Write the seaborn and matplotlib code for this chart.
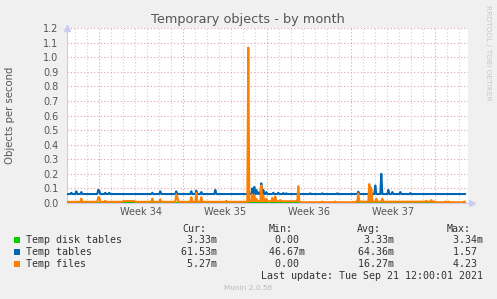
import numpy as np
import pandas as pd
import matplotlib
matplotlib.use("Agg")
import matplotlib.pyplot as plt
from matplotlib.patches import Rectangle
import seaborn as sns

# ---------------- data (time in hours since Mon Aug 16 00:00) ----------------
t_start, t_end, t_step = 104, 900, 2

green_base = 0.00333

blue_base = 0.0615
blue_spike_t = [112, 122, 132, 166, 168, 180, 188, 274, 290, 322, 352, 362, 372, 400,
                474, 478, 482, 486, 492, 496, 502, 516, 526, 536, 542, 590, 614, 644,
                686, 710, 720, 732, 746, 754, 770, 790]
blue_spike_v = [0.07, 0.08, 0.075, 0.09, 0.085, 0.07, 0.07, 0.07, 0.08, 0.08, 0.08, 0.085, 0.075, 0.09,
                0.10, 0.11, 0.09, 0.072, 0.135, 0.09, 0.075, 0.07, 0.07, 0.068, 0.066, 0.066, 0.066, 0.066,
                0.078, 0.11, 0.12, 0.20, 0.09, 0.075, 0.075, 0.068]

orange_seg_start = [104, 216, 240, 466, 570, 682, 842]
orange_seg_end = [216, 240, 466, 570, 682, 842, 902]
orange_seg_level = [0.008, 0.013, 0.008, 0.012, 0.005, 0.009, 0.005]
orange_spike_t = [132, 166, 168, 180, 274, 290, 322, 324, 352, 362, 372, 422, 466,
                  474, 478, 482, 492, 496, 502, 514, 520, 530, 566, 614, 640, 676,
                  686, 708, 712, 722, 734, 822, 832, 860, 866, 898]
orange_spike_v = [0.03, 0.04, 0.035, 0.015, 0.03, 0.025, 0.06, 0.04, 0.04, 0.07, 0.04, 0.015, 1.065,
                  0.06, 0.05, 0.03, 0.12, 0.05, 0.03, 0.035, 0.045, 0.02, 0.115, 0.01, 0.01, 0.008,
                  0.065, 0.13, 0.10, 0.03, 0.03, 0.015, 0.02, 0.01, 0.01, 0.01]

week_label_t = [252, 420, 588, 756]
week_labels = ["Week 34", "Week 35", "Week 36", "Week 37"]
y_ticks = [0.0, 0.1, 0.2, 0.3, 0.4, 0.5, 0.6, 0.7, 0.8, 0.9, 1.0, 1.1, 1.2]

legend_names = ["Temp disk tables", "Temp tables", "Temp files"]
legend_cur = ["3.33m", "61.53m", "5.27m"]
legend_min = ["0.00", "46.67m", "0.00"]
legend_avg = ["3.33m", "64.36m", "16.27m"]
legend_max = ["3.34m", "1.57", "4.23"]
colors = ["#00CC00", "#0066B3", "#FF8000"]

# ---------------- build series ----------------
t = np.arange(t_start, t_end + 1, t_step)
green = np.full(len(t), green_base)
blue = np.full(len(t), blue_base)
for st, sv in zip(blue_spike_t, blue_spike_v):
    blue[np.argmin(np.abs(t - st))] = sv
orange = np.zeros(len(t))
for s0, s1, lv in zip(orange_seg_start, orange_seg_end, orange_seg_level):
    orange[(t >= s0) & (t < s1)] = lv
for st, sv in zip(orange_spike_t, orange_spike_v):
    orange[np.argmin(np.abs(t - st))] = sv

df = pd.DataFrame({"t": t, "green": green, "blue": blue, "orange": orange})

# ---------------- figure ----------------
sns.set_style("white")
plt.rcParams["font.family"] = ["DejaVu Sans"]
W, H = 497, 299
fig = plt.figure(figsize=(W / 100, H / 100), dpi=100, facecolor="#F0F0F0")

def fx(x):
    return x / W

def fy(y):
    return 1 - y / H

L, R, T, B = 67, 468, 28, 203
ax = fig.add_axes([fx(L), fy(B), (R - L) / W, (B - T) / H])
ax.set_facecolor("white")
ax.set_xlim(103.4, 905.4)
ax.set_ylim(0, 1.2)

# grid
for d in range(120, 906, 24):
    if d % 168 != 0:
        ax.axvline(d, color="#D0D0D0", lw=0.8, ls=(0, (1, 2)), zorder=0)
for yv in y_ticks:
    ax.axhline(yv, color="#E8A0A0", lw=0.8, ls=(0, (1, 2)), zorder=0)
for w in range(168, 906, 168):
    ax.axvline(w, color="#E8A0A0", lw=0.8, ls=(0, (1, 2)), zorder=0)

lw = 1.5
sns.lineplot(data=df, x="t", y="green", color=colors[0], lw=lw, ax=ax, zorder=3)
sns.lineplot(data=df, x="t", y="blue", color=colors[1], lw=lw, ax=ax, zorder=4)
sns.lineplot(data=df, x="t", y="orange", color=colors[2], lw=lw, ax=ax, zorder=5)

ax.set_xlabel("")
ax.set_ylabel("")
ax.set_xticks(week_label_t)
ax.set_xticklabels(week_labels)
ax.set_yticks(y_ticks)
ax.set_yticklabels([f"{v:.1f}" for v in y_ticks])
ax.tick_params(axis="both", length=0, labelsize=7, labelcolor="#555555")
ax.tick_params(axis="y", pad=6)
ax.tick_params(axis="x", pad=3)
for s in ["top", "right"]:
    ax.spines[s].set_visible(False)
for s in ["left", "bottom"]:
    ax.spines[s].set_color("#CCCCF0")
    ax.spines[s].set_linewidth(0.8)
# axis arrows
ax.plot([0], [1.0], marker="^", color="#CCCCF0", markersize=5, transform=ax.transAxes, clip_on=False)
ax.plot([1.01], [0], marker=">", color="#CCCCF0", markersize=5, transform=ax.transAxes, clip_on=False)

# title & labels
fig.text(fx(248), fy(19), "Temporary objects - by month", ha="center", va="center",
         fontsize=9.3, color="#555555")
fig.text(fx(10.5), fy((T + B) / 2), "Objects per second", rotation=90, ha="center",
         va="center", fontsize=7.3, color="#555555")
fig.text(fx(488), fy(5), "RRDTOOL / TOBI OETIKER", rotation=270, ha="center", va="top",
         fontsize=5.4, color="#C8C8C8")

# legend
mono = {"family": "DejaVu Sans Mono", "size": 7.2, "color": "#333333"}
fig.text(fx(182), fy(228.5), "Cur:", ha="left", va="center", **mono)
fig.text(fx(269), fy(228.5), "Min:", ha="left", va="center", **mono)
fig.text(fx(357), fy(228.5), "Avg:", ha="left", va="center", **mono)
fig.text(fx(447), fy(228.5), "Max:", ha="left", va="center", **mono)

def fmt(s):
    if s.endswith("m"):
        return f"{s[:-1]:>6}m"
    return f"{s:>6} "

rows_y = [240, 252, 264]
for i, yy in enumerate(rows_y):
    fig.patches.append(Rectangle((fx(14), fy(yy + 3)), 6 / W, 6 / H, transform=fig.transFigure,
                                 facecolor=colors[i], edgecolor="none"))
    fig.text(fx(26), fy(yy), legend_names[i], ha="left", va="center", **mono)
    fig.text(fx(175), fy(yy), fmt(legend_cur[i]), ha="left", va="center", **mono)
    fig.text(fx(263), fy(yy), fmt(legend_min[i]), ha="left", va="center", **mono)
    fig.text(fx(352), fy(yy), fmt(legend_avg[i]), ha="left", va="center", **mono)
    fig.text(fx(441), fy(yy), fmt(legend_max[i]), ha="left", va="center", **mono)

fig.text(fx(483), fy(276), "Last update: Tue Sep 21 12:00:01 2021", ha="right", va="center", **mono)
fig.text(fx(248), fy(288.5), "Munin 2.0.56", ha="center", va="center", fontsize=5.3, color="#BBBBBB")

fig.savefig("out.png", dpi=100, facecolor=fig.get_facecolor())
